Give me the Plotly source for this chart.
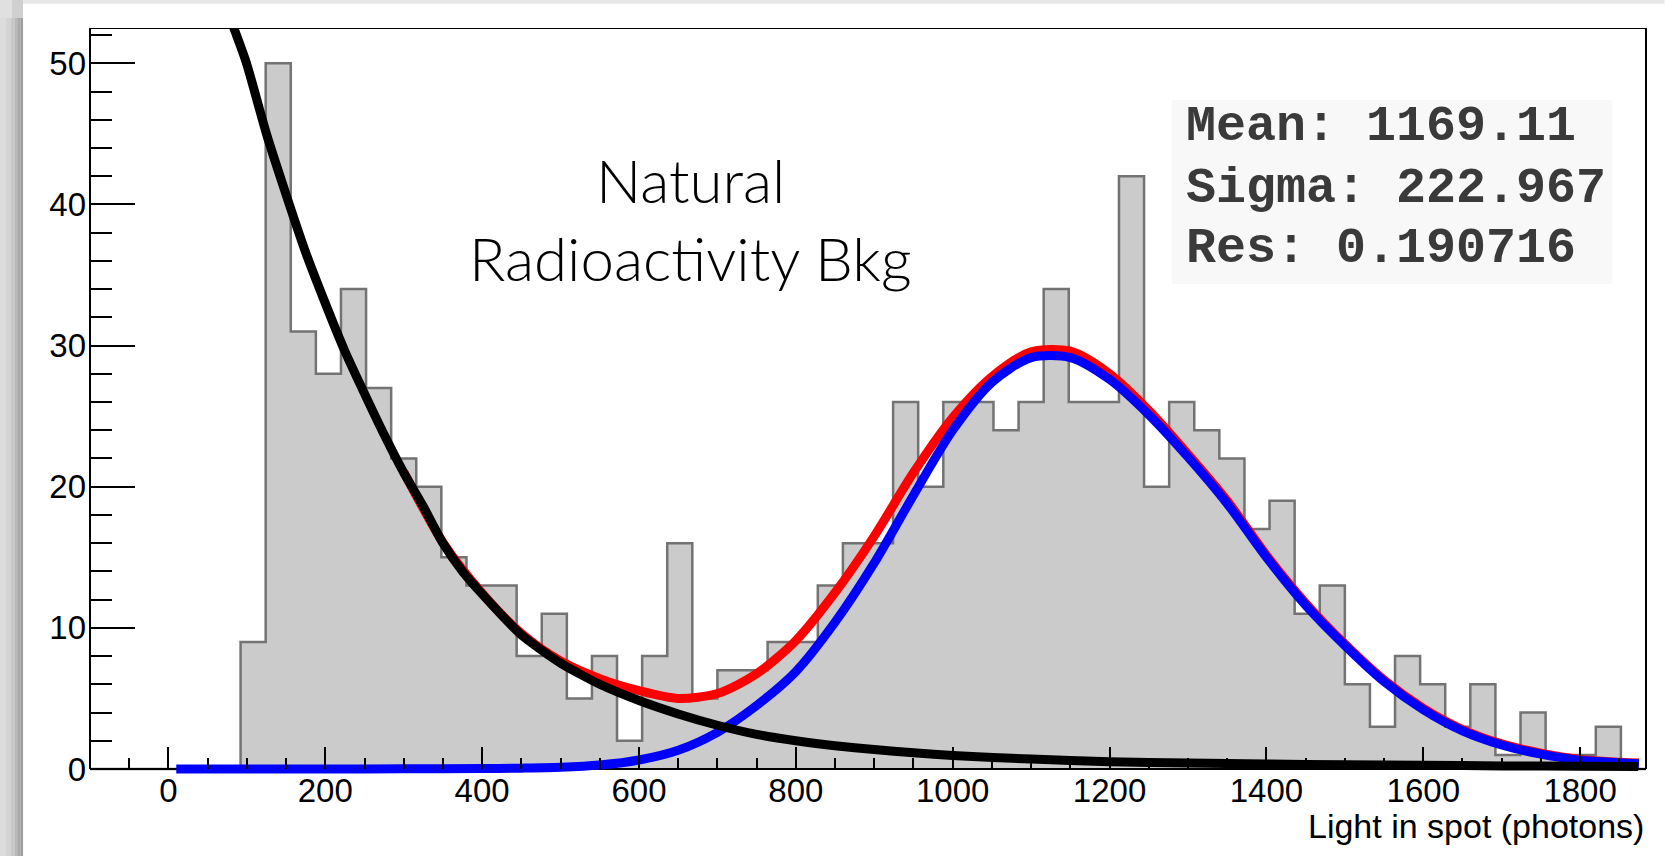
import plotly.graph_objects as go

# ---------------- data ----------------
hist_xmin = -100
hist_bin_width = 32
hist_counts = [0, 0, 0, 0, 0, 0,
               9, 50, 31, 28, 34, 27, 22, 20, 15, 13, 13, 8, 11, 5, 8, 2, 8, 16, 5, 7, 7, 9, 9, 13,
               16, 16, 26, 20, 26, 26, 24, 26, 34, 26, 26, 42, 20, 26, 24, 22, 17, 19, 11, 13,
               6, 3, 8, 6, 3, 6, 1, 4, 1, 1, 3, 0]

bkg_x = [80, 99, 125, 150, 175, 200, 225, 250, 275, 300, 325, 350, 375, 400, 450, 500, 550, 600,
         650, 700, 750, 800, 850, 900, 950, 1000, 1100, 1200, 1300, 1400, 1500, 1600, 1700, 1800, 1874]
bkg_y = [53.0, 50.1, 45.0, 40.7, 36.6, 33.0, 29.6, 26.6, 23.7, 21.0, 18.6, 16.0, 14.0, 12.4, 9.5, 7.5,
         6.0, 4.85, 3.9, 3.1, 2.45, 2.0, 1.65, 1.38, 1.15, 0.95, 0.7, 0.52, 0.42, 0.35, 0.3, 0.26,
         0.22, 0.19, 0.17]

sig_x = [10, 100, 200, 300, 400, 450, 500, 550, 600, 650, 700, 750, 800, 850, 900, 950, 1000, 1050,
         1100, 1150, 1200, 1250, 1300, 1350, 1400, 1450, 1500, 1550, 1600, 1650, 1700, 1750,
         1800, 1875]
sig_y = [0, 0, 0, 0.01, 0.03, 0.06, 0.12, 0.28, 0.64, 1.33, 2.6, 4.5, 6.9, 10.4, 14.6, 19.4, 24.0,
         27.4, 29.15, 29.15, 27.6, 25.1, 22.1, 18.8, 15.0, 11.6, 8.75, 6.2, 4.2, 2.7, 1.7, 1.05,
         0.62, 0.38]

tot_x = [300, 350, 400, 450, 500, 550, 600, 650, 700, 750, 800, 850, 900, 950, 1000, 1050,
         1100, 1150, 1200, 1250, 1300, 1350, 1400, 1450, 1500, 1550, 1600, 1650, 1700, 1750,
         1800, 1875]
tot_y = [21.05, 16.05, 12.45, 9.6, 7.65, 6.4, 5.55, 5.0, 5.35, 6.75, 9.1, 12.5, 16.5, 21.0,
         24.9, 27.8, 29.55, 29.6, 28.0, 25.4, 22.3, 19.0, 15.15, 11.75, 8.85, 6.3, 4.3, 2.8,
         1.78, 1.12, 0.68, 0.42]

x_ticks = [0, 200, 400, 600, 800, 1000, 1200, 1400, 1600, 1800]
y_ticks = [0, 10, 20, 30, 40, 50]

stats_lines = ["Mean: 1169.11", "Sigma: 222.967", "Res: 0.190716"]
label_lines = ["Natural", "Radioactivity Bkg"]
x_title = "Light in spot (photons)"

# ---------------- layout geometry (pixels) ----------------
W, H = 1665, 856
X_LO, X_HI = -100, 1884
Y_TOP = 52.5
L, R, T = 90, 1646.5, 28
Y0_PX = 769                      # pixel row of y = 0
EXTRA = 6                        # plot area extends a little below y=0 so thick curves are not cut
B = Y0_PX + EXTRA
px_per_unit = (Y0_PX - T) / Y_TOP
Y_LO = -EXTRA / px_per_unit
x_axis_pos = (0 - Y_LO) / (Y_TOP - Y_LO)


def px_x(px):
    return (px - L) / (R - L)


def px_y(py):
    return (B - py) / (B - T)


hist_edges = [hist_xmin + i * hist_bin_width for i in range(len(hist_counts) + 1)]
hist_y = hist_counts + [hist_counts[-1]]

fig = go.Figure()

fig.add_trace(go.Scatter(
    x=hist_edges, y=hist_y, mode="lines", line_shape="hv",
    line=dict(color="#737373", width=2.5),
    fill="tozeroy", fillcolor="#cbcbcb", hoverinfo="skip"))

# x axis line (drawn under the fit curves, like the original)
fig.add_trace(go.Scatter(x=[X_LO, X_HI], y=[0, 0], mode="lines",
                         line=dict(color="black", width=2), hoverinfo="skip"))

fig.add_trace(go.Scatter(x=tot_x, y=tot_y, mode="lines", line_shape="spline",
                         line=dict(color="#ff0000", width=9, smoothing=0.8)))
fig.add_trace(go.Scatter(x=sig_x, y=sig_y, mode="lines", line_shape="spline",
                         line=dict(color="#0000ff", width=9, smoothing=0.8)))
fig.add_trace(go.Scatter(x=bkg_x, y=bkg_y, mode="lines", line_shape="spline",
                         line=dict(color="#000000", width=9, smoothing=0.6)))

tick_font = dict(family="Liberation Sans, Arial, sans-serif", size=33, color="black")

fig.update_layout(
    width=W, height=H,
    margin=dict(l=L, r=W - R, t=T, b=H - B, pad=0),
    paper_bgcolor="white", plot_bgcolor="white",
    showlegend=False,
    xaxis=dict(range=[X_LO, X_HI], showgrid=False, zeroline=False,
               showline=False, anchor="free", position=x_axis_pos,
               ticks="inside", ticklen=22, tickwidth=2, tickcolor="black",
               tickmode="array", tickvals=x_ticks, ticktext=[str(v) for v in x_ticks],
               tickfont=tick_font, ticklabelstandoff=-1,
               minor=dict(ticks="inside", ticklen=11, tickwidth=2, tickcolor="black",
                          dtick=50, tick0=0, showgrid=False)),
    yaxis=dict(range=[Y_LO, Y_TOP], showgrid=False, zeroline=False,
               showline=False,
               ticks="inside", ticklen=45, tickwidth=2, tickcolor="black",
               tickmode="array", tickvals=y_ticks, ticktext=[str(v) for v in y_ticks],
               tickfont=tick_font, ticklabelstandoff=3,
               minor=dict(ticks="inside", ticklen=22, tickwidth=2, tickcolor="black",
                          dtick=2, tick0=0, showgrid=False)),
)

shapes = []
# screenshot shadow around the panel
shapes.append(dict(type="rect", xref="paper", yref="paper",
                   x0=px_x(0), x1=px_x(W), y0=px_y(0), y1=px_y(3.8),
                   fillcolor="#e6e6e6", line=dict(width=0), layer="below"))
for a, b, c in [(0, 6, "#dcdcdc"), (6, 11, "#d4d4d4"), (11, 15, "#c8c8c8"),
                (15, 18, "#b8b8b8"), (18, 20.5, "#a8a8a8"), (20.5, 23, "#9c9c9c")]:
    shapes.append(dict(type="rect", xref="paper", yref="paper",
                       x0=px_x(a), x1=px_x(b), y0=px_y(18), y1=px_y(H),
                       fillcolor=c, line=dict(width=0), layer="below"))
for a, b, c in [(0, 12, "#e0e0e0"), (12, 23, "#d0d0d0")]:
    shapes.append(dict(type="rect", xref="paper", yref="paper",
                       x0=px_x(a), x1=px_x(b), y0=px_y(0), y1=px_y(18),
                       fillcolor=c, line=dict(width=0), layer="below"))
# frame (left axis, top, right)
frame = dict(xref="paper", yref="y", type="line", line=dict(color="black", width=2), layer="above")
shapes.append(dict(frame, x0=0, x1=0, y0=0, y1=Y_TOP))
shapes.append(dict(frame, x0=0, x1=1, y0=Y_TOP, y1=Y_TOP))
shapes.append(dict(frame, x0=1, x1=1, y0=0, y1=Y_TOP))
# stats box background
shapes.append(dict(type="rect", xref="paper", yref="paper",
                   x0=px_x(1172), x1=px_x(1613), y0=px_y(100), y1=px_y(284),
                   fillcolor="#f8f8f8", line=dict(width=0), layer="above"))
fig.update_layout(shapes=shapes)

ann = []
for txt, cy in zip(label_lines, [180, 258]):
    ann.append(dict(text=txt, xref="paper", yref="paper", x=px_x(691), y=px_y(cy),
                    xanchor="center", yanchor="middle", showarrow=False,
                    font=dict(family="Lato, sans-serif", size=60, color="black", weight=300)))
for txt, cy in zip(stats_lines, [127, 188, 248]):
    ann.append(dict(text=txt, xref="paper", yref="paper", x=px_x(1184), y=px_y(cy),
                    xanchor="left", yanchor="middle", showarrow=False,
                    font=dict(family="Liberation Mono, monospace", size=50, color="#3a3a3a",
                              weight="bold")))
ann.append(dict(text=x_title, xref="paper", yref="paper", x=px_x(1647), y=px_y(826),
                xanchor="right", yanchor="middle", showarrow=False,
                font=dict(family="Liberation Sans, Arial, sans-serif", size=34, color="black")))
fig.update_layout(annotations=ann)

fig.write_html("out.html")
